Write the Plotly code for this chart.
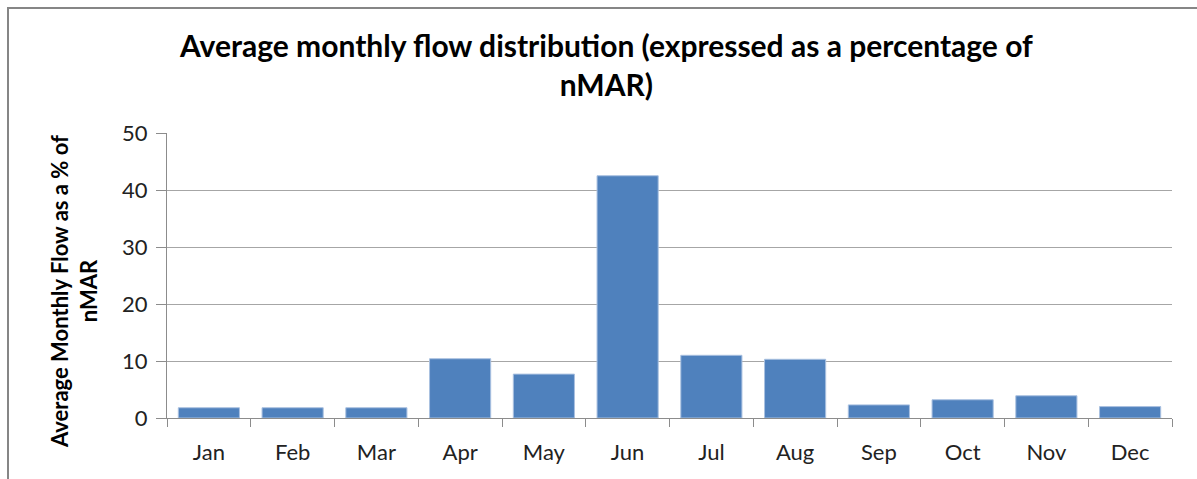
import plotly.graph_objects as go

months = ["Jan", "Feb", "Mar", "Apr", "May", "Jun", "Jul", "Aug", "Sep", "Oct", "Nov", "Dec"]
flow_pct = [1.8, 1.8, 1.8, 10.4, 7.7, 42.5, 11.0, 10.3, 2.3, 3.2, 3.9, 2.0]
y_ticks = [0, 10, 20, 30, 40, 50]

W, H = 1197, 479
L, R, T, B = 167, 25, 133, 61
PW, PH = W - L - R, H - T - B


def px_x(x):
    return (x - L) / PW


def px_y(y):
    return (H - B - y) / PH


fig = go.Figure()
fig.add_trace(go.Bar(
    x=months, y=flow_pct,
    marker=dict(color="#4F81BD", line=dict(color="#A9C0E0", width=1)),
    width=0.73,
))

font_family = "Lato, Open Sans, Noto Sans, Liberation Sans, sans-serif"

fig.update_layout(
    width=W, height=H,
    margin=dict(l=L, r=R, t=T, b=B),
    paper_bgcolor="white", plot_bgcolor="white",
    showlegend=False,
    font=dict(family=font_family, color="#222222"),
)

fig.add_annotation(
    text="<b>Average monthly flow distribution (expressed as a percentage of<br>nMAR)</b>",
    xref="paper", yref="paper",
    x=px_x(606), y=px_y(65),
    xanchor="center", yanchor="middle", align="center",
    showarrow=False,
    font=dict(family=font_family, size=30, color="black"),
)

fig.update_xaxes(
    type="category",
    showline=True, linecolor="#8c8c8c", linewidth=1,
    ticks="outside", tickson="boundaries", ticklen=8, tickcolor="#8c8c8c",
    tickfont=dict(size=22, color="#222222"),
    ticklabelstandoff=15,
    showgrid=False,
)
fig.update_yaxes(
    range=[0, 50], tickvals=y_ticks,
    showline=True, linecolor="#8c8c8c", linewidth=1,
    ticks="outside", ticklen=10, tickcolor="#8c8c8c",
    showgrid=True, gridcolor="#a6a6a6", gridwidth=1,
    zeroline=False,
    tickfont=dict(size=22, color="#222222"),
    ticklabelstandoff=4,
)

fig.add_annotation(
    text="<b>Average Monthly Flow as a % of<br>nMAR</b>",
    xref="paper", yref="paper",
    x=px_x(74), y=px_y(292),
    xanchor="center", yanchor="middle",
    textangle=-90, showarrow=False,
    font=dict(family=font_family, size=22, color="black"),
)

# outer chart border (Excel chart area frame; right and bottom edges fall outside the image)
fig.add_shape(
    type="rect", xref="paper", yref="paper",
    x0=px_x(8), x1=px_x(1215),
    y0=-0.5, y1=px_y(8),
    line=dict(color="#868686", width=2), fillcolor="rgba(0,0,0,0)",
    layer="below",
)

fig.write_html("out.html", config={"displayModeBar": False},
               post_script="document.body.style.margin='0';")
